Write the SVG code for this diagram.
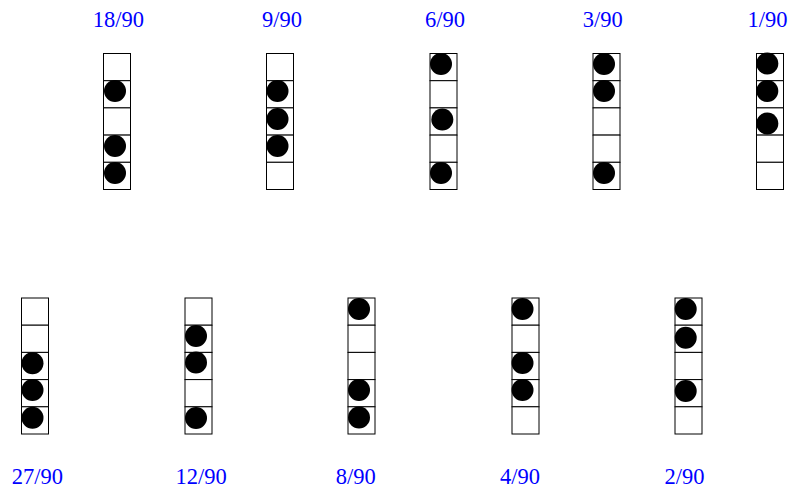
<svg xmlns="http://www.w3.org/2000/svg" width="789" height="489" viewBox="0 0 789 489">
<defs>
<style>
.lbl{font-family:"Liberation Serif","Times New Roman",serif;font-size:22.5px;fill:#0000ff;text-anchor:middle}
.cell{fill:#ffffff;stroke:#000000;stroke-width:1}
.dot{fill:#000000}
</style>
<g id="col">
<rect class="cell" x="0" y="0" width="27" height="27.2"/>
<rect class="cell" x="0" y="27.2" width="27" height="27.2"/>
<rect class="cell" x="0" y="54.4" width="27" height="27.2"/>
<rect class="cell" x="0" y="81.6" width="27" height="27.2"/>
<rect class="cell" x="0" y="108.8" width="27" height="27.2"/>
</g>
</defs>
<rect width="789" height="489" fill="#ffffff"/>
<g id="connectors"/>
<g id="n18">
<use href="#col" x="103.5" y="53.5"/>
<circle class="dot" cx="115" cy="91" r="11"/>
<circle class="dot" cx="115" cy="146" r="11"/>
<circle class="dot" cx="115" cy="173" r="11"/>
<text class="lbl" x="118.5" y="26.5">18/90</text>
</g>
<g id="n9">
<use href="#col" x="266.5" y="53.5"/>
<circle class="dot" cx="277.5" cy="91" r="11"/>
<circle class="dot" cx="277.5" cy="119" r="11"/>
<circle class="dot" cx="277.5" cy="146" r="11"/>
<text class="lbl" x="282" y="26.5">9/90</text>
</g>
<g id="n6">
<use href="#col" x="430" y="53.5"/>
<circle class="dot" cx="441" cy="64" r="11"/>
<circle class="dot" cx="442.3" cy="119.5" r="11"/>
<circle class="dot" cx="441" cy="173" r="11"/>
<text class="lbl" x="445" y="26.5">6/90</text>
</g>
<g id="n3">
<use href="#col" x="593" y="53.5"/>
<circle class="dot" cx="604" cy="64" r="11"/>
<circle class="dot" cx="604" cy="91" r="11"/>
<circle class="dot" cx="604" cy="173" r="11"/>
<text class="lbl" x="602.7" y="26.5">3/90</text>
</g>
<g id="n1">
<use href="#col" x="756.5" y="53.5"/>
<circle class="dot" cx="767.3" cy="63.5" r="11"/>
<circle class="dot" cx="767.3" cy="91" r="11"/>
<circle class="dot" cx="767.3" cy="123.5" r="11"/>
<text class="lbl" x="767.5" y="26.5">1/90</text>
</g>
<g id="n27">
<use href="#col" x="21.5" y="298"/>
<circle class="dot" cx="32.5" cy="363.3" r="11"/>
<circle class="dot" cx="32.5" cy="390" r="11"/>
<circle class="dot" cx="32.5" cy="417.7" r="11"/>
<text class="lbl" x="37.5" y="484">27/90</text>
</g>
<g id="n12">
<use href="#col" x="185" y="298"/>
<circle class="dot" cx="196" cy="336" r="11"/>
<circle class="dot" cx="196" cy="362.5" r="11"/>
<circle class="dot" cx="196" cy="418" r="11"/>
<text class="lbl" x="201.2" y="484">12/90</text>
</g>
<g id="n8">
<use href="#col" x="348" y="298"/>
<circle class="dot" cx="359" cy="309" r="11"/>
<circle class="dot" cx="359" cy="390" r="11"/>
<circle class="dot" cx="359" cy="417.5" r="11"/>
<text class="lbl" x="355.8" y="484">8/90</text>
</g>
<g id="n4">
<use href="#col" x="512" y="298"/>
<circle class="dot" cx="522.5" cy="309" r="11"/>
<circle class="dot" cx="522.5" cy="363" r="11"/>
<circle class="dot" cx="522.5" cy="390" r="11"/>
<text class="lbl" x="520" y="484">4/90</text>
</g>
<g id="n2">
<use href="#col" x="675" y="298"/>
<circle class="dot" cx="685.7" cy="309" r="11"/>
<circle class="dot" cx="685.7" cy="337.7" r="11"/>
<circle class="dot" cx="685.7" cy="391" r="11"/>
<text class="lbl" x="684.5" y="484">2/90</text>
</g>
</svg>
